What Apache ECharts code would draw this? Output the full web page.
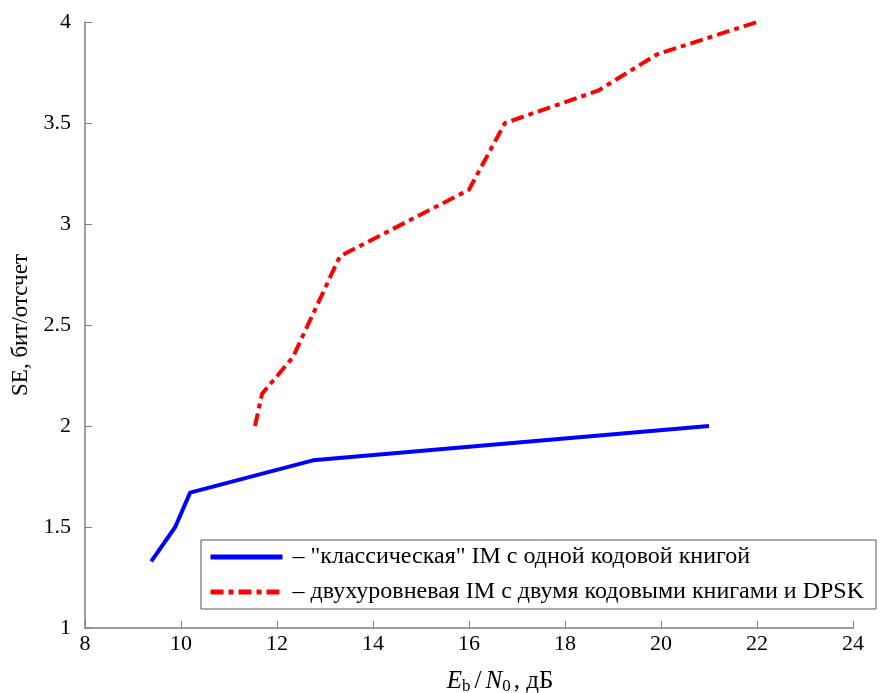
<!DOCTYPE html>
<html>
<head>
<meta charset="utf-8">
<script src="https://cdn.jsdelivr.net/npm/echarts@6/dist/echarts.min.js"></script>
<style>html,body{margin:0;padding:0;background:#fff;overflow:hidden}#c{width:889px;height:693px}</style>
</head>
<body>
<div id="c"></div>
<script>
const blueX = [9.38, 9.88, 10.19, 12.75, 21.0];
const blueY = [1.33, 1.50, 1.67, 1.83, 2.00];
const redX = [11.54, 11.69, 12.33, 13.31, 16.0, 16.75, 18.69, 19.92, 22.0];
const redY = [2.00, 2.16, 2.34, 2.84, 3.17, 3.50, 3.66, 3.84, 4.00];
const blueName = '– "классическая" IM с одной кодовой книгой';
const redName = '– двухуровневая IM с двумя кодовыми книгами и DPSK';
const yTitle = 'SE, бит/отсчет';

const font = '"Liberation Serif", "DejaVu Serif", serif';
const chart = echarts.init(document.getElementById('c'), null, { width: 889, height: 693 });
const axisCol = '#7f7f7f';
chart.setOption({
  backgroundColor: '#fff',
  animation: false,
  textStyle: { fontFamily: font },
  grid: { left: 85, top: 22, width: 768, height: 606, outerBoundsMode: 'none', containLabel: false },
  xAxis: {
    type: 'value', min: 8, max: 24, interval: 2,
    axisLine: { show: true, onZero: false, lineStyle: { color: axisCol, width: 1.5 } },
    axisTick: { show: true, inside: true, length: 7, lineStyle: { color: axisCol } },
    splitLine: { show: false },
    axisLabel: { color: '#000', fontSize: 22, fontFamily: font, margin: 5 },
    name: '{i|E}{sub|b}{n|/}{i|N}{sub|0}{c|, дБ}',
    nameLocation: 'middle', nameGap: 40,
    nameTextStyle: {
      padding: [0, 0, 0, 62],
      rich: {
        i: { fontFamily: font, fontStyle: 'italic', fontSize: 25, color: '#000' },
        sub: { fontFamily: font, fontSize: 17, color: '#000', verticalAlign: 'bottom', padding: [10, 0, 0, 0] },
        n: { fontFamily: font, fontSize: 25, color: '#000', padding: [0, 4, 0, 4] },
        c: { fontFamily: font, fontSize: 25, color: '#000', padding: [0, 0, 0, 3] }
      }
    }
  },
  yAxis: {
    type: 'value', min: 1, max: 4, interval: 0.5,
    axisLine: { show: true, onZero: false, lineStyle: { color: axisCol, width: 1.5 } },
    axisTick: { show: true, inside: true, length: 7, lineStyle: { color: axisCol } },
    splitLine: { show: false },
    axisLabel: { color: '#000', fontSize: 22, fontFamily: font, margin: 14 },
    name: yTitle, nameLocation: 'middle', nameGap: 47, nameRotate: 90,
    nameTextStyle: { color: '#000', fontSize: 23, fontFamily: font }
  },
  legend: {
    orient: 'vertical', left: 201, top: 540,
    borderColor: '#555', borderWidth: 1, padding: [5, 12, 5, 7],
    itemWidth: 72, itemHeight: 20, itemGap: 11,
    textStyle: { fontFamily: font, fontSize: 24, color: '#000', padding: [0, 0, 0, 5] },
    itemStyle: { color: 'rgba(0,0,0,0)', borderWidth: 0 },
    lineStyle: { width: 5 },
    data: [blueName, redName]
  },
  series: [
    {
      name: blueName, type: 'line', symbol: 'none',
      data: blueX.map((x, i) => [x, blueY[i]]),
      lineStyle: { color: '#0000ff', width: 4 },
      itemStyle: { color: '#0000ff' }
    },
    {
      name: redName, type: 'line', symbol: 'none',
      data: redX.map((x, i) => [x, redY[i]]),
      lineStyle: { color: '#ff0000', width: 4, type: [13, 5, 5, 5] },
      itemStyle: { color: '#ff0000' }
    }
  ]
});
</script>
</body>
</html>
